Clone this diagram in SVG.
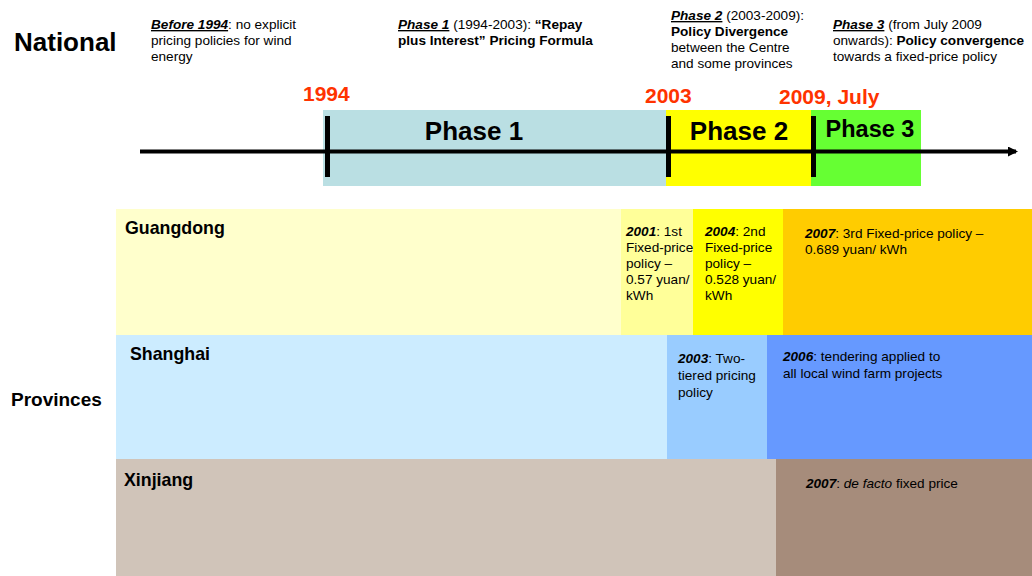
<svg xmlns="http://www.w3.org/2000/svg" width="1032" height="576" viewBox="0 0 1032 576">
<defs>
<style>
text{font-family:"Liberation Sans",Arial,sans-serif;fill:#000}
.s{font-size:13.6px}
.b{font-weight:bold}
.i{font-style:italic}
.u{text-decoration:underline}
.yr{font-size:21px;font-weight:bold;fill:#FF3300}
.ph{font-size:26px;font-weight:bold}
.row{font-size:17.8px;font-weight:bold}
.tick{stroke:#000;stroke-width:5}
</style>
<marker id="ah" markerWidth="10" markerHeight="10" refX="8" refY="5" orient="auto" markerUnits="userSpaceOnUse">
<path d="M0,0 L10,5 L0,10 Z" fill="#000"/>
</marker>
</defs>
<rect width="1032" height="576" fill="#fff"/>

<g id="labels">
<text x="14" y="51" font-size="26" class="b">National</text>
<text x="11" y="406" font-size="19" class="b">Provinces</text>
</g>

<g id="national-notes" class="s">
<text x="151" y="29"><tspan class="b i u">Before 1994</tspan>: no explicit</text>
<text x="151" y="45">pricing policies for wind</text>
<text x="151" y="61">energy</text>
<text x="398" y="29"><tspan class="b i u">Phase 1</tspan> (1994-2003): <tspan class="b">“Repay</tspan></text>
<text x="398" y="45" class="b">plus Interest” Pricing Formula</text>
<text x="671" y="20"><tspan class="b i u">Phase 2</tspan> (2003-2009):</text>
<text x="671" y="36" class="b">Policy Divergence</text>
<text x="671" y="52">between the Centre</text>
<text x="671" y="68">and some provinces</text>
<text x="833" y="29"><tspan class="b i u">Phase 3</tspan> (from July 2009</text>
<text x="833" y="45">onwards): <tspan class="b">Policy convergence</tspan></text>
<text x="833" y="61">towards a fixed-price policy</text>
</g>

<g id="phase1">
<rect x="323" y="110" width="343" height="76" fill="#BADFE3"/>
<text x="474" y="140" class="ph" text-anchor="middle">Phase 1</text>
</g>
<g id="phase2">
<rect x="666" y="110" width="145" height="76" fill="#FFFF00"/>
<text x="739" y="140" class="ph" text-anchor="middle">Phase 2</text>
</g>
<g id="phase3">
<rect x="811" y="110" width="110" height="76" fill="#66FF33"/>
<text x="870" y="137" font-size="23.5" class="b" text-anchor="middle">Phase 3</text>
</g>

<g id="timeline">
<line x1="140" y1="151.5" x2="1016" y2="151.5" stroke="#000" stroke-width="4" marker-end="url(#ah)"/>
<line class="tick" x1="327.5" y1="116" x2="327.5" y2="177"/>
<line class="tick" x1="668.5" y1="116" x2="668.5" y2="177"/>
<line class="tick" x1="813.5" y1="116" x2="813.5" y2="177"/>
<text x="303" y="101" class="yr">1994</text>
<text x="645" y="103" class="yr">2003</text>
<text x="779" y="104" class="yr">2009, July</text>
</g>

<g id="guangdong">
<rect x="116" y="209" width="505" height="126" fill="#FFFFCC"/>
<rect x="621" y="209" width="72" height="126" fill="#FFFF99"/>
<rect x="693" y="209" width="90" height="126" fill="#FFFF00"/>
<rect x="783" y="209" width="249" height="126" fill="#FFCC00"/>
<text x="125" y="234" class="row">Guangdong</text>
<g class="s">
<text x="626" y="236"><tspan class="b i">2001</tspan>: 1st</text>
<text x="626" y="252">Fixed-price</text>
<text x="626" y="268">policy –</text>
<text x="626" y="284">0.57 yuan/</text>
<text x="626" y="300">kWh</text>
<text x="705" y="236"><tspan class="b i">2004</tspan>: 2nd</text>
<text x="705" y="252">Fixed-price</text>
<text x="705" y="268">policy –</text>
<text x="705" y="284">0.528 yuan/</text>
<text x="705" y="300">kWh</text>
<text x="805" y="238"><tspan class="b i">2007</tspan>: 3rd Fixed-price policy –</text>
<text x="805" y="254">0.689 yuan/ kWh</text>
</g>
</g>

<g id="shanghai">
<rect x="116" y="335" width="551" height="124" fill="#CCECFF"/>
<rect x="667" y="335" width="100" height="124" fill="#99CCFF"/>
<rect x="767" y="335" width="265" height="124" fill="#6699FF"/>
<text x="130" y="360" class="row">Shanghai</text>
<g class="s">
<text x="678" y="363"><tspan class="b i">2003</tspan>: Two-</text>
<text x="678" y="380">tiered pricing</text>
<text x="678" y="397">policy</text>
<text x="783" y="361"><tspan class="b i">2006</tspan>: tendering applied to</text>
<text x="783" y="378">all local wind farm projects</text>
</g>
</g>

<g id="xinjiang">
<rect x="116" y="459" width="660" height="117" fill="#D0C4B9"/>
<rect x="776" y="459" width="256" height="117" fill="#A68C7B"/>
<text x="124" y="486" class="row">Xinjiang</text>
<text x="806" y="488" class="s"><tspan class="b i">2007</tspan>: <tspan class="i">de facto</tspan> fixed price</text>
</g>
</svg>
